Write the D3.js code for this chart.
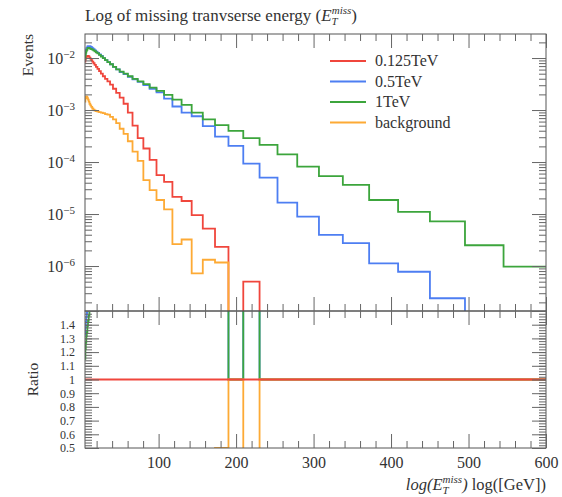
<!DOCTYPE html>
<html>
<head>
<meta charset="utf-8">
<script src="https://cdn.jsdelivr.net/npm/d3@7"></script>
<style>
  body { margin: 0; background: #fff; }
  svg text { font-family: "Liberation Serif", "DejaVu Serif", serif; fill: #333; }
</style>
</head>
<body>
<svg id="chart" width="562" height="497"></svg>
<script>
// Binning: 50 logarithmic bins between 5 and 600 GeV
const binLow = 5, binHigh = 600, nBins = 50;

const seriesNames = ["0.125TeV", "0.5TeV", "1TeV", "background"];
const seriesColors = ["#f0463c", "#4d7ef2", "#3ca53c", "#fdaa35"];

// Events per bin (normalised)
const events125 = [
  8.51e-3, 9.33e-3, 1.00e-2, 1.05e-2, 1.07e-2, 1.10e-2, 1.10e-2, 1.07e-2, 1.02e-2, 9.77e-3,
  9.12e-3, 8.51e-3, 7.94e-3, 7.41e-3, 6.76e-3, 6.17e-3, 5.62e-3, 5.01e-3, 4.47e-3, 3.98e-3,
  3.55e-3, 3.09e-3, 2.57e-3, 2.14e-3, 1.74e-3, 1.32e-3, 8.91e-4, 5.01e-4, 2.88e-4, 1.82e-4,
  1.10e-4, 5.62e-5, 4.17e-5, 2.14e-5, 1.78e-5, 9.55e-6, 5.25e-6, 2.34e-6, 0, 5.01e-7,
  0, 0, 0, 0, 0, 0, 0, 0, 0, 0
];
const events500 = [
  1.13e-2, 1.29e-2, 1.42e-2, 1.53e-2, 1.59e-2, 1.67e-2, 1.70e-2, 1.70e-2, 1.70e-2, 1.66e-2,
  1.62e-2, 1.55e-2, 1.48e-2, 1.41e-2, 1.32e-2, 1.26e-2, 1.17e-2, 1.10e-2, 1.00e-2, 9.12e-3,
  8.32e-3, 7.59e-3, 6.76e-3, 6.03e-3, 5.37e-3, 4.90e-3, 4.37e-3, 3.89e-3, 3.47e-3, 3.02e-3,
  2.57e-3, 2.19e-3, 1.66e-3, 1.17e-3, 8.91e-4, 7.59e-4, 4.90e-4, 3.09e-4, 2.04e-4, 9.33e-5,
  5.01e-5, 1.66e-5, 8.91e-6, 3.98e-6, 2.75e-6, 1.12e-6, 7.76e-7, 2.40e-7, 0, 0
];
const events1000 = [
  9.79e-3, 1.14e-2, 1.27e-2, 1.38e-2, 1.44e-2, 1.53e-2, 1.57e-2, 1.57e-2, 1.53e-2, 1.50e-2,
  1.48e-2, 1.45e-2, 1.41e-2, 1.35e-2, 1.29e-2, 1.23e-2, 1.15e-2, 1.07e-2, 1.00e-2, 9.12e-3,
  8.32e-3, 7.59e-3, 6.76e-3, 6.03e-3, 5.50e-3, 5.01e-3, 4.47e-3, 3.98e-3, 3.55e-3, 3.16e-3,
  2.69e-3, 2.34e-3, 1.95e-3, 1.58e-3, 1.26e-3, 8.91e-4, 6.61e-4, 5.13e-4, 3.98e-4, 2.88e-4,
  2.14e-4, 1.41e-4, 8.13e-5, 5.37e-5, 3.63e-5, 1.86e-5, 1.10e-5, 7.24e-6, 2.51e-6, 9.77e-7
];
const eventsBkg = [
  1.45e-3, 1.66e-3, 1.78e-3, 1.82e-3, 1.78e-3, 1.70e-3, 1.58e-3, 1.45e-3, 1.32e-3, 1.23e-3,
  1.15e-3, 1.07e-3, 1.02e-3, 9.77e-4, 9.55e-4, 9.33e-4, 9.12e-4, 8.91e-4, 8.71e-4, 8.32e-4,
  8.13e-4, 7.41e-4, 6.61e-4, 5.62e-4, 4.37e-4, 3.47e-4, 2.51e-4, 1.58e-4, 1.05e-4, 4.47e-5,
  2.88e-5, 1.86e-5, 1.23e-5, 2.63e-6, 3.24e-6, 7.24e-7, 1.32e-6, 1.17e-6, 0, 0,
  0, 0, 0, 0, 0, 0, 0, 0, 0, 0
];

const xTickValues = [100, 200, 300, 400, 500, 600];
const yDecadeExponents = [-2, -3, -4, -5, -6];
const ratioTickLabels = [1.4, 1.3, 1.2, 1.1, 1.0, 0.9, 0.8, 0.7, 0.6, 0.5];

const allSeries = [events125, events500, events1000, eventsBkg];

// ---- layout ----
const P = { left: 85, right: 546, top: 34, mid: 311, bottom: 448 };
const svg = d3.select("#chart");

const edges = d3.range(nBins + 1).map(i => binLow * Math.pow(binHigh / binLow, i / nBins));

const x = d3.scaleLinear().domain([binLow, binHigh]).range([P.left, P.right]);
const y = d3.scaleLog().domain([1.365e-7, 2.9e-2]).range([P.mid, P.top]);
const yr = d3.scaleLinear().domain([0.5, 1.5]).range([P.bottom, P.mid]);

const defs = svg.append("defs");
defs.append("clipPath").attr("id", "clipTop").append("rect")
  .attr("x", P.left).attr("y", P.top).attr("width", P.right - P.left).attr("height", P.mid - P.top);
defs.append("clipPath").attr("id", "clipBot").append("rect")
  .attr("x", P.left).attr("y", P.mid).attr("width", P.right - P.left).attr("height", P.bottom - P.mid);

// histogram outline as a step path
function stepPoints(vals, toY) {
  const pts = [];
  vals.forEach((v, i) => {
    const yy = toY(v);
    pts.push([x(edges[i]), yy], [x(edges[i + 1]), yy]);
  });
  return pts;
}
const line = d3.line();

const yUpper = v => (v > 0 ? y(v) : P.mid + 20);
const yRatio = v => yr(Math.max(0.3, Math.min(1.7, v)));

// ---- upper panel: histograms ----
const gTop = svg.append("g").attr("clip-path", "url(#clipTop)");
allSeries.forEach((vals, k) => {
  gTop.append("path")
    .attr("d", line(stepPoints(vals, yUpper)))
    .attr("fill", "none")
    .attr("stroke", seriesColors[k])
    .attr("stroke-width", 1.8)
    .attr("stroke-linejoin", "miter");
});

// ---- lower panel: ratio to the 0.125TeV sample ----
const ratios = allSeries.map(vals => vals.map((v, i) => (events125[i] > 0 ? v / events125[i] : 1)));
const gBot = svg.append("g").attr("clip-path", "url(#clipBot)");
[1, 2, 3, 0].forEach(k => {
  gBot.append("path")
    .attr("d", line(stepPoints(ratios[k], yRatio)))
    .attr("fill", "none")
    .attr("stroke", seriesColors[k])
    .attr("stroke-width", k === 0 ? 2.2 : 1.8);
});

// ---- frames ----
svg.append("rect").attr("x", P.left).attr("y", P.top)
  .attr("width", P.right - P.left).attr("height", P.mid - P.top)
  .attr("fill", "none").attr("stroke", "#555").attr("stroke-width", 1);
svg.append("rect").attr("x", P.left).attr("y", P.mid)
  .attr("width", P.right - P.left).attr("height", P.bottom - P.mid)
  .attr("fill", "none").attr("stroke", "#555").attr("stroke-width", 1);

// ---- axes ----
const tickColor = "#666";
function styleAxis(g, size) {
  g.attr("font-size", null).attr("font-family", null);
  g.select(".domain").remove();
  g.selectAll(".tick line").attr("stroke", tickColor);
  g.selectAll(".tick text").attr("font-size", size || 15.5).attr("fill", "#333");
}

const xMinor = d3.range(20, 601, 20).filter(v => v % 100 !== 0);
const MAJ = 14, MIN = 7;

function xAxes(axisFn, yPos, withLabels) {
  svg.append("g").attr("transform", `translate(0,${yPos})`)
    .call(axisFn(x).tickValues(xMinor).tickSize(-MIN).tickFormat(""))
    .call(styleAxis);
  svg.append("g").attr("transform", `translate(0,${yPos})`)
    .call(axisFn(x).tickValues(xTickValues).tickSize(-MAJ).tickPadding(9)
      .tickFormat(withLabels ? d3.format("d") : ""))
    .call(styleAxis, 16);
}
xAxes(d3.axisTop, P.top, false);
xAxes(d3.axisBottom, P.mid, false);
xAxes(d3.axisTop, P.mid, false);
xAxes(d3.axisBottom, P.bottom, true);

// log axis: decades and 2..9 subdivisions
const yMajor = yDecadeExponents.map(e => Math.pow(10, e));
const yMinor = y.ticks().filter(v => {
  const m = v / Math.pow(10, Math.floor(Math.log10(v) + 1e-9));
  return Math.abs(m - 1) > 1e-6;
});

[[d3.axisLeft, P.left], [d3.axisRight, P.right]].forEach(([fn, xPos], side) => {
  svg.append("g").attr("transform", `translate(${xPos},0)`)
    .call(fn(y).tickValues(yMinor).tickSize(-MIN).tickFormat(""))
    .call(styleAxis);
  const g = svg.append("g").attr("transform", `translate(${xPos},0)`)
    .call(fn(y).tickValues(yMajor).tickSize(-MAJ).tickPadding(10).tickFormat(""))
    .call(styleAxis, 16);
  if (side === 0) {
    g.selectAll(".tick text").each(function (d) {
      const t = d3.select(this);
      t.append("tspan").text("10");
      t.append("tspan").attr("dy", "-0.5em").attr("font-size", 11)
        .text("\u2212" + Math.round(-Math.log10(d)));
    });
  }
});

const ratioMinor = d3.range(0, 51).map(i => 0.5 + i * 0.02);
const ratioMajor = d3.range(0, 11).map(i => 0.5 + i * 0.1);
[[d3.axisLeft, P.left], [d3.axisRight, P.right]].forEach(([fn, xPos]) => {
  svg.append("g").attr("transform", `translate(${xPos},0)`)
    .call(fn(yr).tickValues(ratioMinor).tickSize(-MIN).tickFormat(""))
    .call(styleAxis);
  svg.append("g").attr("transform", `translate(${xPos},0)`)
    .call(fn(yr).tickValues(ratioMajor).tickSize(-MAJ).tickFormat(""))
    .call(styleAxis);
});
svg.append("g").attr("transform", `translate(${P.left},0)`)
  .call(d3.axisLeft(yr).tickValues(ratioTickLabels).tickSize(0).tickPadding(10)
    .tickFormat(d => (Math.abs(d - 1) < 1e-9 ? "1" : d3.format(".1f")(d))))
  .call(styleAxis, 12);

// ---- titles and labels ----
const title = svg.append("text").attr("x", P.left).attr("y", 21).attr("font-size", 17);
title.append("tspan").text("Log of missing tranvserse energy (");
title.append("tspan").attr("font-style", "italic").text("E");
title.append("tspan").attr("font-size", 11).attr("font-style", "italic").attr("dy", 4).text("T");
title.append("tspan").attr("font-size", 11).attr("font-style", "italic").attr("dx", -6).attr("dy", -11).text("miss");
title.append("tspan").attr("dy", 7).text(")");

svg.append("text")
  .attr("transform", `translate(33,${P.top}) rotate(-90)`)
  .attr("text-anchor", "end").attr("font-size", 15.5).text("Events");

svg.append("text")
  .attr("transform", `translate(38,${yr(1)}) rotate(-90)`)
  .attr("text-anchor", "middle").attr("font-size", 15.5).text("Ratio");

const xl = svg.append("text").attr("x", P.right).attr("y", 490)
  .attr("text-anchor", "end").attr("font-size", 16.5);
xl.append("tspan").attr("font-style", "italic").text("log(E");
xl.append("tspan").attr("font-size", 11).attr("font-style", "italic").attr("dy", 4).text("T");
xl.append("tspan").attr("font-size", 11).attr("font-style", "italic").attr("dx", -6).attr("dy", -11).text("miss");
xl.append("tspan").attr("font-style", "italic").attr("dy", 7).text(")");
xl.append("tspan").text(" log([GeV])");

// ---- legend ----
const legend = svg.append("g");
seriesNames.forEach((name, k) => {
  const ly = 61 + k * 20.5;
  legend.append("line").attr("x1", 330).attr("x2", 366).attr("y1", ly).attr("y2", ly)
    .attr("stroke", seriesColors[k]).attr("stroke-width", 1.8);
  legend.append("text").attr("x", 375).attr("y", ly + 5).attr("font-size", 16).text(name);
});
</script>
</body>
</html>
